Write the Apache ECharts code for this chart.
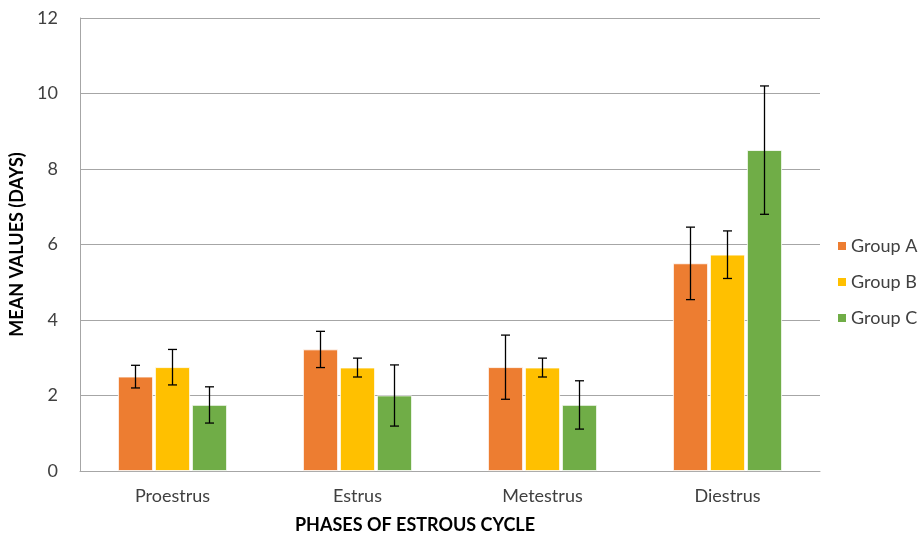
<!DOCTYPE html>
<html><head><meta charset="utf-8">
<script src="https://cdn.jsdelivr.net/npm/echarts@6/dist/echarts.min.js"></script>
<style>html,body{margin:0;padding:0;background:#fff}#c{width:921px;height:539px}</style>
</head><body><div id="c"></div>
<script>
var categories = ['Proestrus', 'Estrus', 'Metestrus', 'Diestrus'];
var seriesNames = ['Group A', 'Group B', 'Group C'];
var groupA = [2.5, 3.22, 2.75, 5.5];
var groupB = [2.75, 2.74, 2.74, 5.73];
var groupC = [1.75, 2.0, 1.75, 8.5];
var errA = [0.3, 0.48, 0.85, 0.96];
var errB = [0.47, 0.25, 0.25, 0.63];
var errC = [0.48, 0.81, 0.64, 1.7];
var yTicks = [0, 2, 4, 6, 8, 10, 12];
var colors = ['#ED7D31', '#FFC000', '#70AD47'];

var values = [groupA, groupB, groupC];
var errs = [errA, errB, errC];
var FONT = 'Lato';
var barWidth = 35, barGapPx = 2;

var chart = echarts.init(document.getElementById('c'));
var series = [];
values.forEach(function (v, i) {
  series.push({
    name: seriesNames[i], type: 'bar', data: v, barWidth: barWidth, barGap: (barGapPx / barWidth * 100) + '%',
    itemStyle: { color: colors[i], borderColor: '#fff', borderWidth: 0.8 }, z: 2
  });
});
values.forEach(function (v, i) {
  var data = v.map(function (y, k) { return [k, y - errs[i][k], y + errs[i][k]]; });
  series.push({
    type: 'custom', name: seriesNames[i] + ' err', data: data, z: 5, silent: true,
    renderItem: function (params, api) {
      var k = api.value(0);
      var lo = api.coord([k, api.value(1)]);
      var hi = api.coord([k, api.value(2)]);
      var offset = (i - 1) * (barWidth + barGapPx);
      var x = lo[0] + offset;
      var cap = 4.5;
      var st = { stroke: '#000', lineWidth: 1.3 };
      return { type: 'group', children: [
        { type: 'line', shape: { x1: x, y1: hi[1], x2: x, y2: lo[1] }, style: st },
        { type: 'line', shape: { x1: x - cap, y1: hi[1], x2: x + cap, y2: hi[1] }, style: st },
        { type: 'line', shape: { x1: x - cap, y1: lo[1], x2: x + cap, y2: lo[1] }, style: st }
      ]};
    }
  });
});

chart.setOption({
  animation: false,
  textStyle: { fontFamily: FONT },
  grid: { left: 80, right: 101, top: 18, bottom: 68 },
  legend: {
    data: seriesNames, orient: 'vertical', left: 831, top: 232, itemGap: 18,
    itemWidth: 10, itemHeight: 10, icon: 'rect',
    textStyle: { fontFamily: FONT, fontSize: 18, color: '#404040', padding: [0, 0, 0, -1] }
  },
  xAxis: {
    type: 'category', data: categories,
    axisLine: { lineStyle: { color: '#a6a6a6', width: 1 } },
    axisTick: { show: false },
    axisLabel: { fontFamily: FONT, fontSize: 18, color: '#404040', margin: 16 },
    name: 'PHASES OF ESTROUS CYCLE', nameLocation: 'middle', nameGap: 45,
    nameTextStyle: { fontFamily: FONT, fontSize: 18, fontWeight: 'bold', color: '#000', padding: [0, 70, 0, 0] }
  },
  yAxis: {
    type: 'value', min: yTicks[0], max: yTicks[yTicks.length - 1], interval: 2,
    axisLine: { show: true, lineStyle: { color: '#a6a6a6' } },
    axisTick: { show: false },
    splitLine: { lineStyle: { color: '#a6a6a6' } },
    axisLabel: { fontFamily: FONT, fontSize: 18, color: '#404040', margin: 22 },
    name: 'MEAN VALUES (DAYS)', nameLocation: 'middle', nameGap: 54, nameRotate: 90,
    nameTextStyle: { fontFamily: FONT, fontSize: 18, fontWeight: 'bold', color: '#000' }
  },
  series: series
});
</script></body></html>
